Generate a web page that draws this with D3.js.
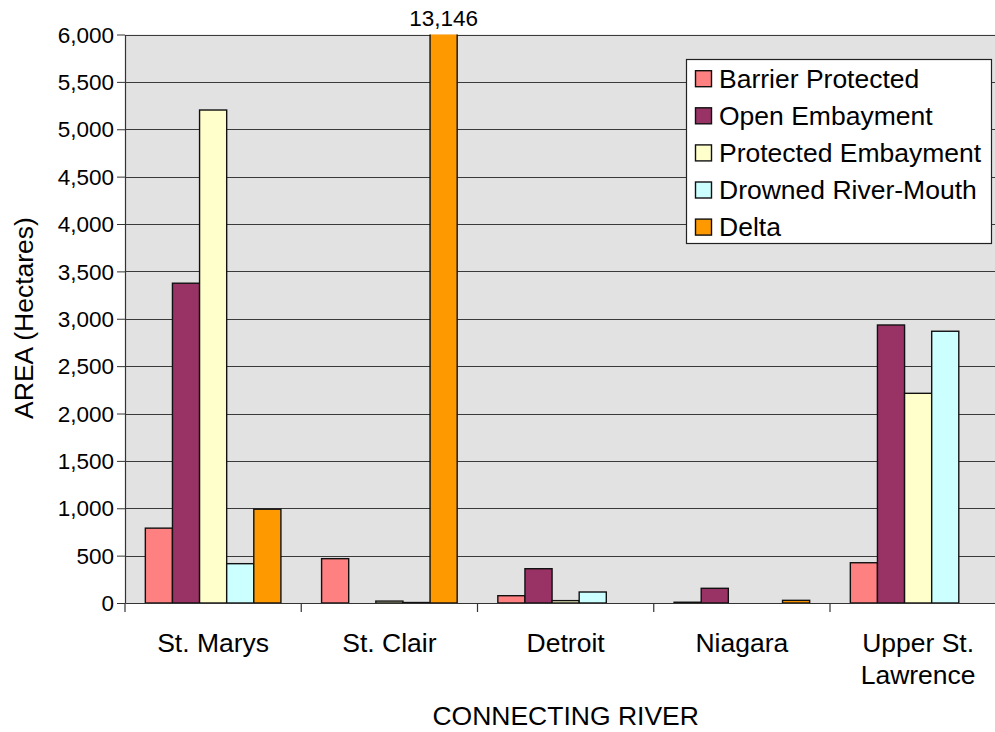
<!DOCTYPE html>
<html>
<head>
<meta charset="utf-8">
<script src="https://cdn.jsdelivr.net/npm/d3@7/dist/d3.min.js"></script>
<style>
  html, body { margin: 0; padding: 0; background: #ffffff; }
  svg { display: block; }
  text { font-family: "Liberation Sans", Arial, Helvetica, sans-serif; fill: #000; }
</style>
</head>
<body>
<svg id="chart" width="995" height="732"></svg>
<script>
const categories = ["St. Marys", "St. Clair", "Detroit", "Niagara", "Upper St. Lawrence"];
const categoryLines = [["St. Marys"], ["St. Clair"], ["Detroit"], ["Niagara"], ["Upper St.", "Lawrence"]];
const seriesNames = ["Barrier Protected", "Open Embayment", "Protected Embayment", "Drowned River-Mouth", "Delta"];
const seriesColors = ["#FF8080", "#993366", "#FFFFCC", "#CCFFFF", "#FF9900"];
const barrierProtected   = [790, 468, 77, 8, 425];
const openEmbayment      = [3375, 0, 362, 155, 2934];
const protectedEmbayment = [5203, 20, 25, 0, 2213];
const drownedRiverMouth  = [415, 5, 116, 0, 2868];
const delta              = [990, 13146, 0, 28, 0];
const yTicks = [0, 500, 1000, 1500, 2000, 2500, 3000, 3500, 4000, 4500, 5000, 5500, 6000];
const yMax = 6000;

const seriesValues = [barrierProtected, openEmbayment, protectedEmbayment, drownedRiverMouth, delta];

const svg = d3.select("#chart");
const pLeft = 125, pTop = 34.5, pBottom = 603, plotW = 881.25;
const pRight = pLeft + plotW;

const x0 = d3.scaleBand().domain(categories).range([pLeft, pRight]).paddingInner(0).paddingOuter(0);
const groupPad = x0.bandwidth() * 1.5 / 6.5 / 2;
const x1 = d3.scaleBand().domain(seriesNames).range([groupPad, x0.bandwidth() - groupPad]).padding(0);
const y = d3.scaleLinear().domain([0, yMax]).range([pBottom, pTop]);

// plot background
svg.append("rect").attr("x", pLeft).attr("y", pTop).attr("width", plotW).attr("height", pBottom - pTop)
  .attr("fill", "#E2E2E2");

// gridlines
svg.append("g").selectAll("line").data(yTicks.filter(d => d > 0)).join("line")
  .attr("x1", pLeft).attr("x2", pRight)
  .attr("y1", d => Math.round(y(d)) + 0.5).attr("y2", d => Math.round(y(d)) + 0.5)
  .attr("stroke", "#3a3a3a").attr("stroke-width", 1);

// clip
svg.append("clipPath").attr("id", "plotclip").append("rect")
  .attr("x", pLeft).attr("y", pTop).attr("width", plotW).attr("height", pBottom - pTop + 2);

// bars
const barData = [];
categories.forEach((c, ci) => {
  seriesNames.forEach((s, si) => {
    const v = seriesValues[si][ci];
    if (v > 0) barData.push({c, s, si, v});
  });
});
svg.append("g").attr("clip-path", "url(#plotclip)")
  .selectAll("rect").data(barData).join("rect")
  .attr("x", d => x0(d.c) + x1(d.s))
  .attr("width", x1.bandwidth())
  .attr("y", d => y(Math.min(d.v, yMax + 100)))
  .attr("height", d => pBottom - y(Math.min(d.v, yMax + 100)))
  .attr("fill", d => seriesColors[d.si])
  .attr("stroke", "#111").attr("stroke-width", 1.4);

// data label for clipped bar
barData.filter(d => d.v > yMax).forEach(d => {
  svg.append("text")
    .attr("x", x0(d.c) + x1(d.s) + x1.bandwidth() / 2)
    .attr("y", 26)
    .attr("text-anchor", "middle")
    .style("font-size", "22.5px")
    .text(d3.format(",")(d.v));
});

// y axis
const yAxis = d3.axisLeft(y).tickValues(yTicks).tickFormat(d3.format(",")).tickSize(8).tickSizeOuter(0);
const gy = svg.append("g").attr("transform", `translate(${pLeft},0)`).call(yAxis);
gy.select(".domain").attr("stroke", "#333").attr("stroke-width", 1.2);
gy.selectAll(".tick line").attr("stroke", "#333");
gy.selectAll(".tick text").attr("x", -11).attr("dy", "0.34em")
  .style("font-size", "22.5px").style("font-family", "'Liberation Sans', Arial, sans-serif").attr("fill", "#000");

// x axis
const xAxis = d3.axisBottom(x0).tickSize(0).tickFormat("");
const gx = svg.append("g").attr("transform", `translate(0,${pBottom})`).call(xAxis);
gx.select(".domain").attr("stroke", "#333").attr("stroke-width", 1.2);
gx.selectAll(".tick").remove();
// boundary ticks
const bounds = categories.map(c => x0(c)).concat([pRight]);
svg.append("g").selectAll("line").data(bounds).join("line")
  .attr("x1", d => d).attr("x2", d => d)
  .attr("y1", pBottom).attr("y2", pBottom + 9)
  .attr("stroke", "#333").attr("stroke-width", 1.2);

// category labels
const catG = svg.append("g");
categories.forEach((c, i) => {
  const t = catG.append("text")
    .attr("x", x0(c) + x0.bandwidth() / 2)
    .attr("y", 651.5)
    .attr("text-anchor", "middle")
    .style("font-size", "26.5px");
  categoryLines[i].forEach((line, li) => {
    t.append("tspan").attr("x", x0(c) + x0.bandwidth() / 2).attr("dy", li === 0 ? 0 : 32.5).text(line);
  });
});

// axis titles
svg.append("text")
  .attr("x", (pLeft + pRight) / 2).attr("y", 725)
  .attr("text-anchor", "middle").style("font-size", "26.5px")
  .text("CONNECTING RIVER");
svg.append("text")
  .attr("transform", `translate(33,318) rotate(-90)`)
  .attr("text-anchor", "middle").style("font-size", "26.5px")
  .text("AREA (Hectares)");

// legend
const lg = svg.append("g");
lg.append("rect").attr("x", 686.5).attr("y", 59.5).attr("width", 305).attr("height", 184)
  .attr("fill", "#fff").attr("stroke", "#222").attr("stroke-width", 1.2);
seriesNames.forEach((s, i) => {
  const by = 87.7 + i * 37.1;
  lg.append("rect").attr("x", 695.5).attr("y", by - 17).attr("width", 16).attr("height", 16)
    .attr("fill", seriesColors[i]).attr("stroke", "#111").attr("stroke-width", 1.4);
  lg.append("text").attr("x", 719).attr("y", by).style("font-size", "26.5px").text(s);
});
</script>
</body>
</html>
